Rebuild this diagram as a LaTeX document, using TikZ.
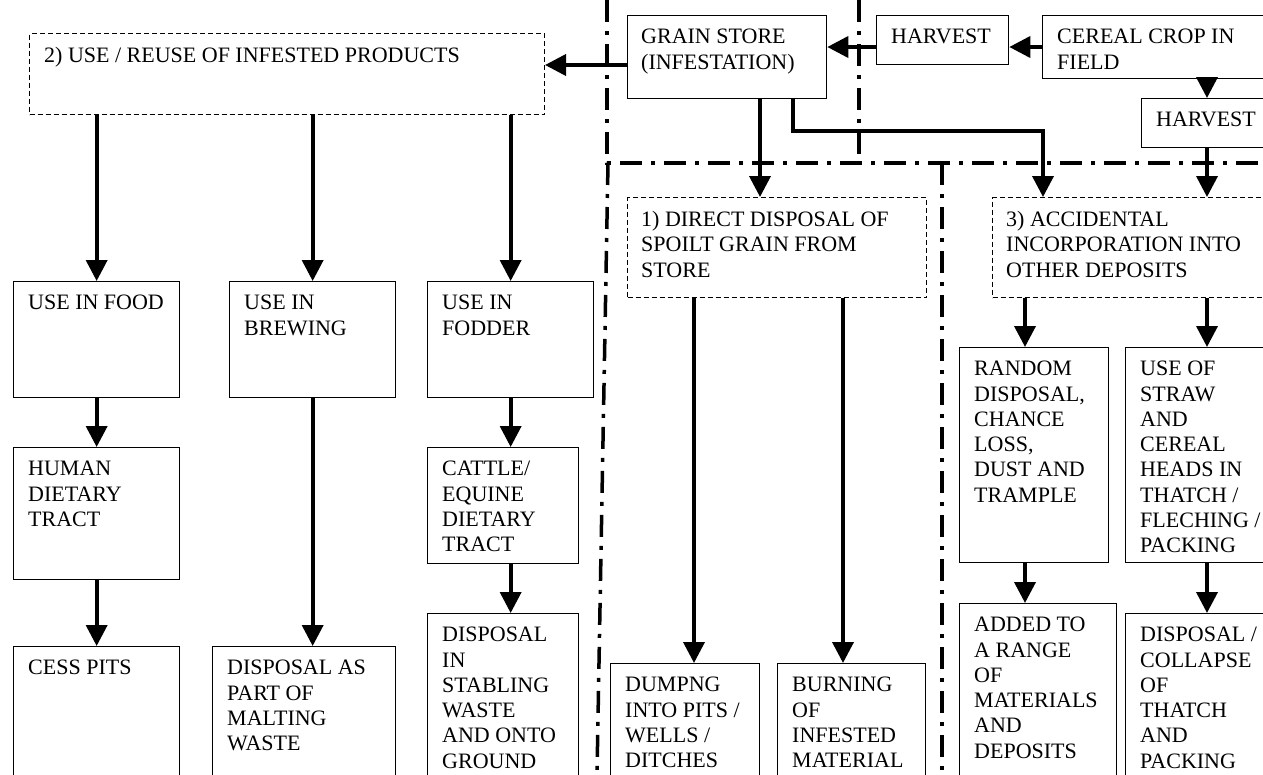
\documentclass[tikz,border=0pt]{standalone}
\usepackage{fontspec}
\setmainfont{Liberation Serif}
\usetikzlibrary{arrows.meta,positioning}

\tikzset{
  box/.style={draw, line width=1.3pt, anchor=north west, inner sep=0pt},
  dbox/.style={box, line width=1pt, dash pattern=on 5pt off 3pt},
  txt/.style={align=left, inner sep=0pt, anchor=north west,
    font=\fontsize{22}{25.3}\selectfont},
  arr/.style={line width=3.7pt, -{Triangle[length=21pt,width=21pt]}},
  zone/.style={line width=3.5pt, dash pattern=on 22pt off 9pt on 4pt off 9pt}
}

\begin{document}
\begin{tikzpicture}[x=1pt,y=-1pt]
\useasboundingbox (0,0) rectangle (1263,774);
\clip (0,0) rectangle (1263,774);

% zone borders
\draw[zone] (607,0) -- (607,163) -- (1263,163);
\draw[zone] (859,0) -- (859,163);
\draw[zone] (608,163) -- (597,774);
\draw[zone] (942,163) -- (942,774);

% top row
\node[dbox, minimum width=515pt, minimum height=81pt] (reuse) at (29,33) {};
\node[box, minimum width=199pt, minimum height=83pt] (store) at (627,15) {};
\node[box, minimum width=132pt, minimum height=49pt] (harvA) at (876,15) {};
\node[box, minimum width=260pt, minimum height=63pt] (crop) at (1042,15) {};
\node[box, minimum width=160pt, minimum height=49pt] (harvB) at (1141,98) {};
\node[dbox, minimum width=299pt, minimum height=100pt] (direct) at (627,197) {};
\node[dbox, minimum width=300pt, minimum height=100pt] (accid) at (992,197) {};

% reuse branch
\node[box, minimum width=166pt, minimum height=116pt] (food) at (13,281) {};
\node[box, minimum width=166pt, minimum height=116pt] (brew) at (229,281) {};
\node[box, minimum width=166pt, minimum height=116pt] (fodder) at (427,281) {};
\node[box, minimum width=166pt, minimum height=132pt] (human) at (13,447) {};
\node[box, minimum width=151pt, minimum height=116pt] (cattle) at (427,447) {};
\node[box, minimum width=166pt, minimum height=150pt] (cess) at (13,646) {};
\node[box, minimum width=183pt, minimum height=150pt] (malt) at (212,646) {};
\node[box, minimum width=151pt, minimum height=180pt] (stable) at (427,613) {};

% direct disposal branch
\node[box, minimum width=149pt, minimum height=130pt] (dump) at (610,663) {};
\node[box, minimum width=148pt, minimum height=130pt] (burn) at (777,663) {};

% accidental branch
\node[box, minimum width=149pt, minimum height=215pt] (random) at (959,347) {};
\node[box, minimum width=170pt, minimum height=215pt] (straw) at (1125,347) {};
\node[box, minimum width=157pt, minimum height=190pt] (added) at (959,603) {};
\node[box, minimum width=170pt, minimum height=180pt] (collapse) at (1125,613) {};

% texts
\node[txt, below right=14pt and 15pt of reuse.north west] (reuset) {2) USE / REUSE OF INFESTED PRODUCTS};
\node[txt, below right=14pt and 14pt of store.north west] (storet) {GRAIN STORE\\(INFESTATION)};
\node[txt, below right=14pt and 15pt of harvA.north west] (harvAt) {HARVEST};
\node[txt, below right=14pt and 15pt of crop.north west] (cropt) {CEREAL CROP IN\\FIELD};
\node[txt, below right=14pt and 15pt of harvB.north west] (harvBt) {HARVEST};
\node[txt, below right=14pt and 14pt of direct.north west] (directt) {1) DIRECT DISPOSAL OF\\SPOILT GRAIN FROM\\STORE};
\node[txt, below right=14pt and 14pt of accid.north west] (accidt) {3) ACCIDENTAL\\INCORPORATION INTO\\OTHER DEPOSITS};
\node[txt, below right=14pt and 15pt of food.north west] (foodt) {USE IN FOOD};
\node[txt, below right=14pt and 15pt of brew.north west] (brewt) {USE IN\\BREWING};
\node[txt, below right=14pt and 15pt of fodder.north west] (foddert) {USE IN\\FODDER};
\node[txt, below right=14pt and 15pt of human.north west] (humant) {HUMAN\\DIETARY\\TRACT};
\node[txt, below right=14pt and 15pt of cattle.north west] (cattlet) {CATTLE/\\EQUINE\\DIETARY\\TRACT};
\node[txt, below right=14pt and 15pt of cess.north west] (cesst) {CESS PITS};
\node[txt, below right=14pt and 15pt of malt.north west] (maltt) {DISPOSAL AS\\PART OF\\MALTING\\WASTE};
\node[txt, below right=14pt and 15pt of stable.north west] (stablet) {DISPOSAL\\IN\\STABLING\\WASTE\\AND ONTO\\GROUND};
\node[txt, below right=14pt and 15pt of dump.north west] (dumpt) {DUMPNG\\INTO PITS /\\WELLS /\\DITCHES};
\node[txt, below right=14pt and 15pt of burn.north west] (burnt) {BURNING\\OF\\INFESTED\\MATERIAL};
\node[txt, below right=14pt and 15pt of random.north west] (randomt) {RANDOM\\DISPOSAL,\\CHANCE\\LOSS,\\DUST AND\\TRAMPLE};
\node[txt, below right=14pt and 15pt of straw.north west] (strawt) {USE OF\\STRAW\\AND\\CEREAL\\HEADS IN\\THATCH /\\FLECHING /\\PACKING};
\node[txt, below right=14pt and 15pt of added.north west] (addedt) {ADDED TO\\A RANGE\\OF\\MATERIALS\\AND\\DEPOSITS};
\node[txt, below right=14pt and 15pt of collapse.north west] (collapset) {DISPOSAL /\\COLLAPSE\\OF\\THATCH\\AND\\PACKING};

% arrows
\draw[arr] (crop.west |- 0,47) -- (harvA.east |- 0,47);
\draw[arr] (harvA.west |- 0,47) -- (store.east |- 0,47);
\draw[arr] (store.west |- 0,65) -- (reuse.east |- 0,65);
\draw[arr] (crop.south -| 1207,0) -- (harvB.north -| 1207,0);
\draw[arr] (harvB.south -| 1207,0) -- (accid.north -| 1207,0);
\draw[arr] (store.south -| 760,0) -- (direct.north -| 760,0);
\draw[arr] (store.south -| 793,0) |- (1043,131) -- (accid.north -| 1043,0);

\draw[arr] (reuse.south -| food.north) -- (food.north);
\draw[arr] (reuse.south -| brew.north) -- (brew.north);
\draw[arr] (reuse.south -| fodder.north) -- (fodder.north);
\draw[arr] (food.south) -- (human.north);
\draw[arr] (human.south) -- (cess.north);
\draw[arr] (brew.south) -- (brew.south |- malt.north);
\draw[arr] (fodder.south) -- (fodder.south |- cattle.north);
\draw[arr] (cattle.south -| fodder.south) -- (fodder.south |- stable.north);

\draw[arr] (direct.south -| 694,0) -- (dump.north -| 694,0);
\draw[arr] (direct.south -| 843,0) -- (burn.north -| 843,0);

\draw[arr] (accid.south -| 1025,0) -- (random.north -| 1025,0);
\draw[arr] (accid.south -| 1207,0) -- (straw.north -| 1207,0);
\draw[arr] (random.south -| 1025,0) -- (added.north -| 1025,0);
\draw[arr] (straw.south -| 1207,0) -- (collapse.north -| 1207,0);
\end{tikzpicture}
\end{document}
